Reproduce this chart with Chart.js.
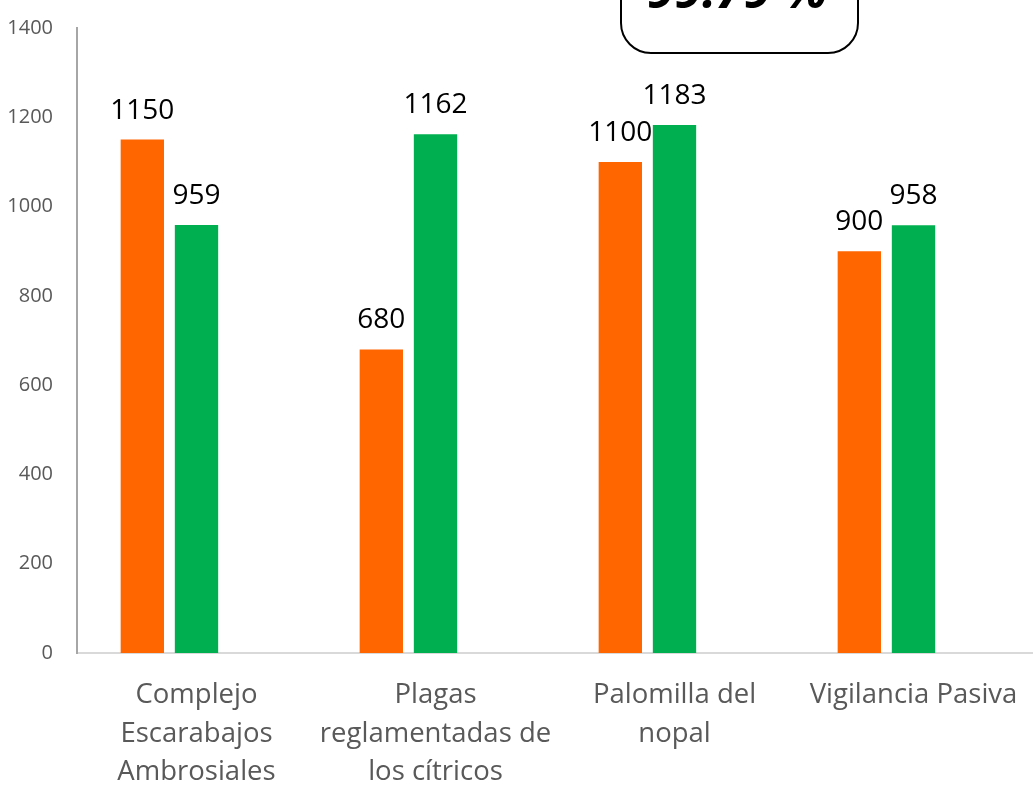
<!DOCTYPE html>
<html>
<head>
<meta charset="utf-8">
<script src="https://cdn.jsdelivr.net/npm/chart.js@4"></script>
<style>
  html, body { margin: 0; padding: 0; background: #fff; }
  #wrap { width: 1033px; height: 786px; }
</style>
</head>
<body>
<div id="wrap"><canvas id="barChart" width="1033" height="786"></canvas></div>
<script>
const categories = [
  ['Complejo', 'Escarabajos', 'Ambrosiales'],
  ['Plagas', 'reglamentadas de', 'los cítricos'],
  ['Palomilla del', 'nopal'],
  ['Vigilancia Pasiva']
]
const seriesOrange = [1150, 680, 1100, 900]
const seriesGreen = [959, 1162, 1183, 958]
const seriesEmpty = [null, null, null, null]
const yTicks = [0, 200, 400, 600, 800, 1000, 1200, 1400]
const boxText = '99.79 %'

const FONT = '"Open Sans", "Noto Sans", sans-serif'

// value labels above each bar
const valueLabels = {
  id: 'valueLabels',
  afterDatasetsDraw(chart) {
    const ctx = chart.ctx
    ctx.save()
    ctx.font = '28px ' + FONT
    ctx.fillStyle = '#000'
    ctx.textAlign = 'center'
    ctx.textBaseline = 'alphabetic'
    chart.data.datasets.forEach((ds, i) => {
      chart.getDatasetMeta(i).data.forEach((bar, j) => {
        if (ds.data[j] == null) return
        ctx.fillText(ds.data[j], bar.x, bar.y - 21)
      })
    })
    ctx.restore()
  }
}

// rounded callout box cut off at the top
const topBox = {
  id: 'topBox',
  afterDraw(chart) {
    const ctx = chart.ctx
    ctx.save()
    ctx.beginPath()
    ctx.roundRect(621, -60, 237, 113, 30)
    ctx.fillStyle = '#fff'
    ctx.fill()
    ctx.lineWidth = 2
    ctx.strokeStyle = '#000'
    ctx.stroke()
    ctx.font = 'italic bold 50px ' + FONT
    ctx.fillStyle = '#000'
    ctx.textAlign = 'center'
    ctx.textBaseline = 'alphabetic'
    ctx.fillText(boxText, 737, 8)
    ctx.restore()
  }
}

const ctx = document.getElementById('barChart').getContext('2d')

const barOpts = { barPercentage: 0.8, categoryPercentage: 0.68 }

new Chart(ctx, {
  type: 'bar',
  data: {
    labels: categories,
    datasets: [
      { data: seriesOrange, backgroundColor: '#FF6600', ...barOpts },
      { data: seriesGreen, backgroundColor: '#00B050', ...barOpts },
      { data: seriesEmpty, backgroundColor: '#A5A5A5', ...barOpts },
    ],
  },
  options: {
    responsive: false,
    animation: false,
    layout: { padding: { top: 27, right: 0, left: 0, bottom: 0 } },
    plugins: {
      legend: { display: false },
      tooltip: { enabled: false },
    },
    scales: {
      x: {
        grid: { display: false },
        border: { color: '#D9D9D9', width: 2 },
        ticks: {
          color: '#595959',
          font: { family: FONT, size: 27.5, lineHeight: 1.4 },
          padding: 15,
          maxRotation: 0,
          autoSkip: false,
        },
        afterFit(scale) { scale.height = 133 },
      },
      y: {
        min: 0,
        max: 1400,
        grid: { display: false },
        border: { color: '#A6A6A6', width: 2 },
        afterBuildTicks(scale) {
          scale.ticks = yTicks.map(v => ({ value: v }))
        },
        ticks: {
          color: '#595959',
          font: { family: FONT, size: 20 },
          padding: 16,
          callback: v => String(v),
        },
        afterFit(scale) { scale.width = 77 },
      },
    },
  },
  plugins: [valueLabels, topBox],
})
</script>
</body>
</html>
